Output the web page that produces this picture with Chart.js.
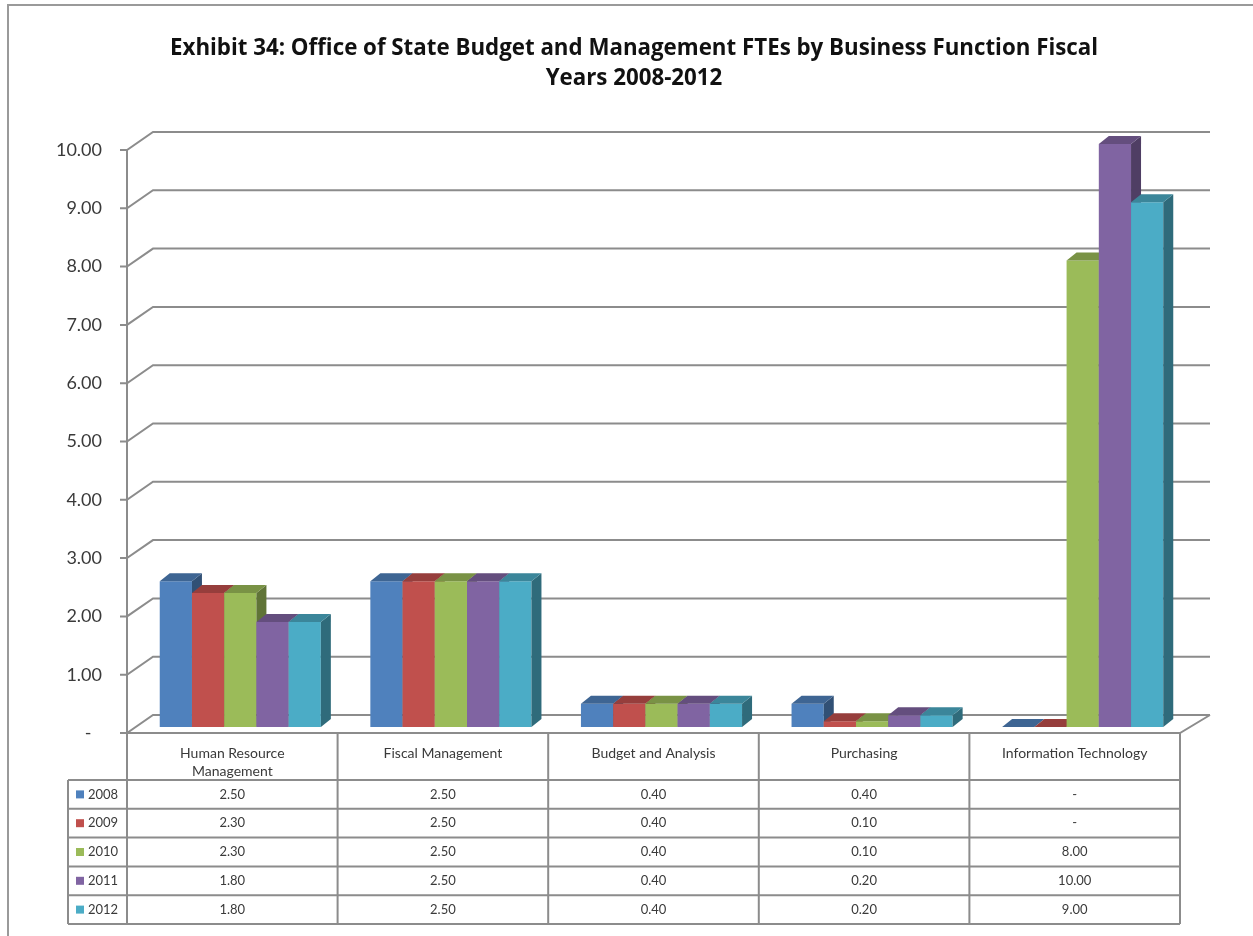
<!DOCTYPE html>
<html>
<head>
<meta charset="utf-8">
<script src="https://cdn.jsdelivr.net/npm/chart.js"></script>
<title>Exhibit 34</title>
<style>
  body { margin: 0; background: #fff; }
  #wrap { width: 1253px; height: 936px; position: relative; }
</style>
</head>
<body>
<div id="wrap">
  <canvas id="myChart" width="1253" height="936"></canvas>
</div>

<script>
  const categories = [['Human Resource', 'Management'], ['Fiscal Management'], ['Budget and Analysis'], ['Purchasing'], ['Information Technology']];
  const years = ['2008', '2009', '2010', '2011', '2012'];
  const fte2008 = [2.50, 2.50, 0.40, 0.40, 0];
  const fte2009 = [2.30, 2.50, 0.40, 0.10, 0];
  const fte2010 = [2.30, 2.50, 0.40, 0.10, 8.00];
  const fte2011 = [1.80, 2.50, 0.40, 0.20, 10.00];
  const fte2012 = [1.80, 2.50, 0.40, 0.20, 9.00];
  const yTicks = [0, 1, 2, 3, 4, 5, 6, 7, 8, 9, 10];

  const series = [fte2008, fte2009, fte2010, fte2011, fte2012];
  const colors = ['#4F81BD', '#C0504D', '#9BBB59', '#8064A2', '#4BACC6'];

  function shade(hex, f) {
    const n = parseInt(hex.slice(1), 16);
    const r = Math.round(((n >> 16) & 255) * f), g = Math.round(((n >> 8) & 255) * f), b = Math.round((n & 255) * f);
    return 'rgb(' + r + ',' + g + ',' + b + ')';
  }
  function fmt(v) { return v === 0 ? '-' : v.toFixed(2); }

  const DX = 10, DY = 8;        // bar depth
  const SHIFT = 8;              // bars sit a little back in the floor
  const LINE = '#8c8c8c';
  const TXT = '#3a3a3a';
  const FONT = 'Lato, "Open Sans", sans-serif';

  const threeD = {
    id: 'threeD',
    beforeDatasetsDraw(chart) {
      const ctx = chart.ctx, ys = chart.scales.y, a = chart.chartArea;
      ctx.save();
      ctx.strokeStyle = LINE;
      ctx.lineWidth = 2;
      // walls: gridlines on side and back wall
      yTicks.forEach(v => {
        const y = ys.getPixelForValue(v);
        ctx.beginPath();
        ctx.moveTo(a.left - 7, y + 6);
        ctx.lineTo(a.left, y + 6);
        ctx.lineTo(a.left + 26, y - 12);
        ctx.lineTo(a.right + 30, y - 12);
        ctx.stroke();
      });
      const y0 = ys.getPixelForValue(0), y10 = ys.getPixelForValue(10);
      ctx.beginPath();
      ctx.moveTo(a.left, y10 + 6);
      ctx.lineTo(a.left, y0 + 6);
      ctx.lineTo(a.right, y0 + 6);
      ctx.lineTo(a.right + 30, y0 - 12);
      ctx.stroke();
      ctx.restore();
    },
    // the bars are drawn below, left to right, with their depth faces
    beforeDatasetDraw() { return false; },
    afterDatasetsDraw(chart) {
      const ctx = chart.ctx;
      ctx.save();
      ctx.translate(SHIFT, 0);
      series.forEach((vals, i) => {
        const c = colors[i];
        chart.getDatasetMeta(i).data.forEach(bar => {
          bar.draw(ctx);
          const p = bar.getProps(['x', 'y', 'base', 'width'], true);
          const l = p.x - p.width / 2, r = p.x + p.width / 2;
          ctx.fillStyle = shade(c, 0.62);
          ctx.beginPath();
          ctx.moveTo(r, p.y); ctx.lineTo(r + DX, p.y - DY); ctx.lineTo(r + DX, p.base - DY); ctx.lineTo(r, p.base);
          ctx.closePath(); ctx.fill();
          ctx.fillStyle = shade(c, 0.78);
          ctx.beginPath();
          ctx.moveTo(l, p.y); ctx.lineTo(l + DX, p.y - DY); ctx.lineTo(r + DX, p.y - DY); ctx.lineTo(r, p.y);
          ctx.closePath(); ctx.fill();
        });
      });
      ctx.restore();
    },
    afterDraw(chart) {
      const ctx = chart.ctx, xs = chart.scales.x, ys = chart.scales.y, a = chart.chartArea;
      const top = ys.getPixelForValue(0) + 6;
      const headH = 47, rowH = 28.8, legL = 68;
      const rowTop = top + headH;
      const bottom = rowTop + rowH * years.length;
      const edges = [a.left];
      for (let i = 1; i < categories.length; i++) edges.push((xs.getPixelForValue(i - 1) + xs.getPixelForValue(i)) / 2);
      edges.push(a.right);

      ctx.save();
      // outer frame
      ctx.strokeStyle = '#9a9a9a';
      ctx.lineWidth = 2;
      ctx.beginPath();
      ctx.moveTo(8, 936); ctx.lineTo(8, 5); ctx.lineTo(1253, 5);
      ctx.stroke();

      ctx.strokeStyle = LINE;
      ctx.lineWidth = 2;
      ctx.beginPath();
      edges.forEach(x => { ctx.moveTo(x, top); ctx.lineTo(x, bottom); });
      ctx.moveTo(legL, rowTop); ctx.lineTo(legL, bottom);
      for (let r = 0; r <= years.length; r++) {
        const y = rowTop + r * rowH;
        ctx.moveTo(legL, y); ctx.lineTo(a.right, y);
      }
      ctx.stroke();

      ctx.fillStyle = TXT;
      ctx.font = '14px ' + FONT;
      ctx.textAlign = 'center';
      ctx.textBaseline = 'middle';
      categories.forEach((lines, i) => {
        const x = xs.getPixelForValue(i);
        lines.forEach((t, k) => ctx.fillText(t, x, top + 20 + k * 18));
      });
      ctx.font = '13px ' + FONT;
      series.forEach((vals, r) => {
        const y = rowTop + r * rowH + rowH / 2;
        vals.forEach((v, i) => {
          ctx.fillStyle = TXT;
          ctx.fillText(fmt(v), xs.getPixelForValue(i), y);
        });
        ctx.fillStyle = colors[r];
        ctx.fillRect(legL + 8, y - 4, 8, 8);
        ctx.fillStyle = TXT;
        ctx.textAlign = 'left';
        ctx.fillText(years[r], legL + 20, y);
        ctx.textAlign = 'center';
      });
      ctx.restore();
    }
  };

  const ctx = document.getElementById('myChart');

  new Chart(ctx, {
    type: 'bar',
    data: {
      labels: categories.map(c => c.join(' ')),
      datasets: series.map((vals, i) => ({
        label: years[i],
        data: vals,
        backgroundColor: colors[i],
        borderWidth: 0,
        clip: false
      }))
    },
    options: {
      responsive: false,
      animation: false,
      events: [],
      layout: { padding: { left: 15, right: 0, top: 0, bottom: 209 } },
      categoryPercentage: 0.765,
      barPercentage: 1,
      plugins: {
        legend: { display: false },
        tooltip: { enabled: false },
        title: {
          display: true,
          text: ['Exhibit 34: Office of State Budget and Management FTEs by Business Function Fiscal', 'Years 2008-2012'],
          color: '#111',
          font: { family: '"Open Sans", Lato, sans-serif', size: 22.3, weight: 'bold', lineHeight: 1.3453 },
          padding: { top: 34, bottom: 50 }
        }
      },
      scales: {
        x: { display: false },
        y: {
          min: 0,
          max: 10,
          afterFit(scale) { scale.width = 112; },
          afterBuildTicks(scale) { scale.ticks = yTicks.map(v => ({ value: v })); },
          grid: { display: false, drawTicks: false },
          border: { display: false },
          ticks: {
            padding: 25,
            labelOffset: 6,
            color: TXT,
            font: { family: FONT, size: 18 },
            callback: v => v === 0 ? '-\u2007' : v.toFixed(2)
          }
        },
        // empty right margin, room for the back wall and floor edge
        y2: {
          position: 'right',
          afterFit(scale) { scale.width = 73; },
          grid: { display: false, drawTicks: false },
          border: { display: false },
          ticks: { display: false }
        }
      }
    },
    plugins: [threeD]
  });
</script>

</body>
</html>
